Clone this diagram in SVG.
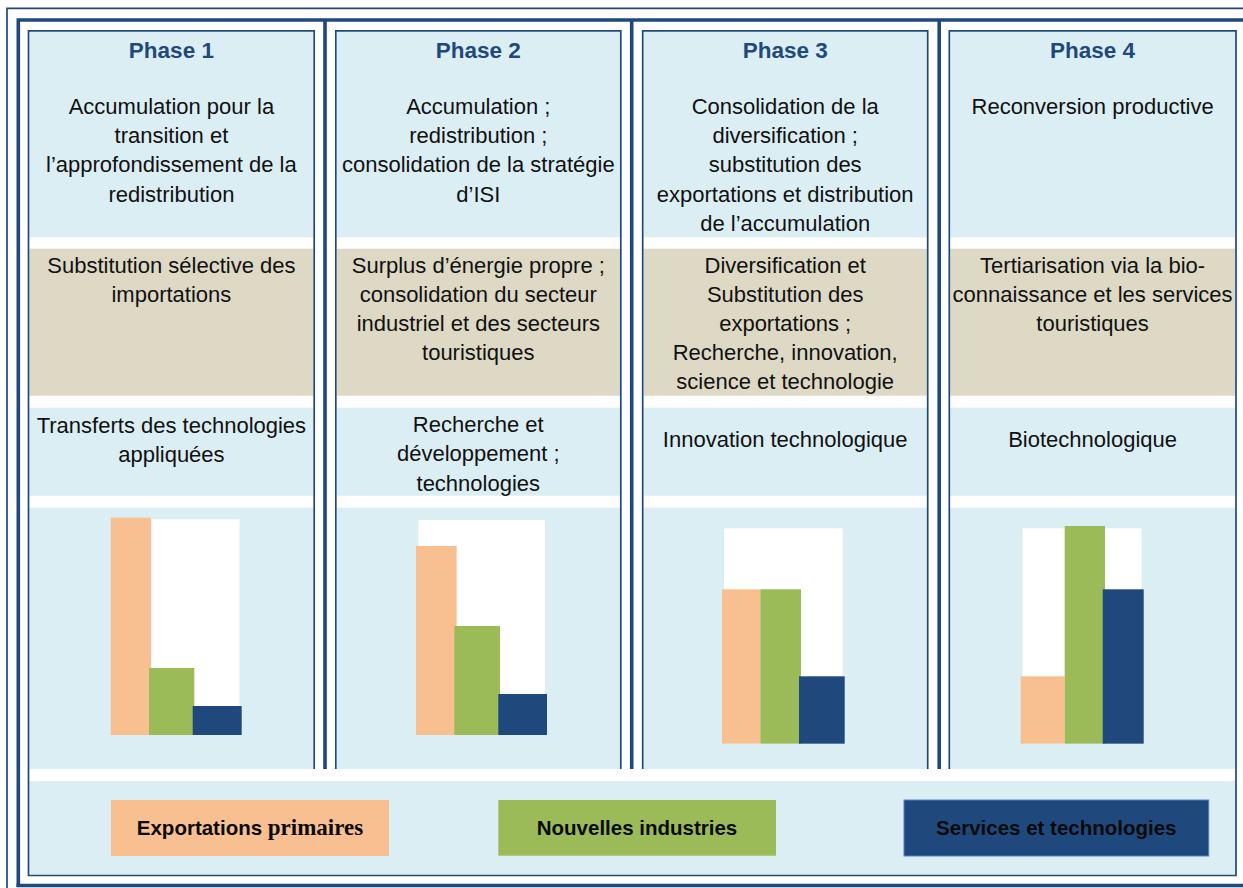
<svg xmlns="http://www.w3.org/2000/svg" width="1243" height="888" viewBox="0 0 1243 888">
<style>
.ln{stroke:#1F497D;fill:none}
.thin{stroke-width:1.7}
.thick{stroke-width:3.6}
.lb{fill:#DBEEF4}
.tan{fill:#DDD9C4}
.wh{fill:#FFFFFF}
.or{fill:#F8C091}
.gr{fill:#9BBB59}
.bl{fill:#1F497D}
.ph{font-family:"Liberation Sans",Arial,sans-serif;font-weight:bold;font-size:22.5px;fill:#1F497D;text-anchor:middle}
.tx{font-family:"Liberation Sans",Arial,sans-serif;font-size:22px;fill:#111111;text-anchor:middle}
.lg{font-family:"Liberation Sans",Arial,sans-serif;font-weight:bold;font-size:20.5px;fill:#0A0A0A;text-anchor:middle}
.serif{font-family:"Liberation Serif","Times New Roman",serif;font-size:23px}
</style>
<rect x="0" y="0" width="1243" height="888" fill="#FFFFFF"/>

<g id="frame">
  <path class="ln thin" d="M7,888 V8.3 H1243"/>
  <path class="ln thick" d="M18.3,887 V20 H1243"/>
  <path class="ln thick" d="M16.5,885.5 H1243"/>
  <path class="ln thick" d="M325,20 V769"/>
  <path class="ln thick" d="M631.7,20 V769"/>
  <path class="ln thick" d="M939.2,20 V769"/>
</g>

<g id="phase1">
  <rect class="lb" x="29.4" y="31.7" width="284" height="205.6"/>
  <rect class="tan" x="29.4" y="248.7" width="284" height="147"/>
  <rect class="lb" x="29.4" y="407.7" width="284" height="88"/>
  <rect class="lb" x="29.4" y="507.7" width="284" height="261.3"/>
  <path class="ln thin" d="M28.5,769 V30.8 H314.2 V769"/>
  <text class="ph" x="171.4" y="58.3">Phase 1</text>
  <text class="tx" x="171.4" y="114.3">Accumulation pour la</text>
  <text class="tx" x="171.4" y="143.3">transition et</text>
  <text class="tx" x="171.4" y="172.4">l’approfondissement de la</text>
  <text class="tx" x="171.4" y="201.5">redistribution</text>
  <text class="tx" x="171.4" y="273.3">Substitution sélective des</text>
  <text class="tx" x="171.4" y="302.3">importations</text>
  <text class="tx" x="171.4" y="433">Transferts des technologies</text>
  <text class="tx" x="171.4" y="462">appliquées</text>
  <rect class="wh" x="151.5" y="519.3" width="88" height="215.7"/>
  <rect class="or" x="110.7" y="517.7" width="40.3" height="217.3"/>
  <rect class="gr" x="149" y="668" width="45.3" height="67"/>
  <rect class="bl" x="192.7" y="706" width="49" height="29"/>
</g>

<g id="phase2">
  <rect class="lb" x="336.7" y="31.7" width="283.2" height="205.6"/>
  <rect class="tan" x="336.7" y="248.7" width="283.2" height="147"/>
  <rect class="lb" x="336.7" y="407.7" width="283.2" height="88"/>
  <rect class="lb" x="336.7" y="507.7" width="283.2" height="261.3"/>
  <path class="ln thin" d="M335.8,769 V30.8 H620.8 V769"/>
  <text class="ph" x="478.3" y="58.3">Phase 2</text>
  <text class="tx" x="478.3" y="114.3">Accumulation ;</text>
  <text class="tx" x="478.3" y="143.3">redistribution ;</text>
  <text class="tx" x="478.3" y="172.4">consolidation de la stratégie</text>
  <text class="tx" x="478.3" y="201.5">d’ISI</text>
  <text class="tx" x="478.3" y="273.3">Surplus d’énergie propre ;</text>
  <text class="tx" x="478.3" y="302.3">consolidation du secteur</text>
  <text class="tx" x="478.3" y="331.3">industriel et des secteurs</text>
  <text class="tx" x="478.3" y="360.3">touristiques</text>
  <text class="tx" x="478.3" y="432.3">Recherche et</text>
  <text class="tx" x="478.3" y="461.3">développement ;</text>
  <text class="tx" x="478.3" y="490.5">technologies</text>
  <rect class="wh" x="418.3" y="520" width="126.7" height="215"/>
  <rect class="or" x="416" y="546" width="40.7" height="189"/>
  <rect class="gr" x="454.3" y="626" width="45.7" height="109"/>
  <rect class="bl" x="498.3" y="694" width="48.7" height="41"/>
</g>

<g id="phase3">
  <rect class="lb" x="643.6" y="31.7" width="283.2" height="205.6"/>
  <rect class="tan" x="643.6" y="248.7" width="283.2" height="147"/>
  <rect class="lb" x="643.6" y="407.7" width="283.2" height="88"/>
  <rect class="lb" x="643.6" y="507.7" width="283.2" height="261.3"/>
  <path class="ln thin" d="M642.7,769 V30.8 H927.7 V769"/>
  <text class="ph" x="785.2" y="58.3">Phase 3</text>
  <text class="tx" x="785.2" y="114.3">Consolidation de la</text>
  <text class="tx" x="785.2" y="143.3">diversification ;</text>
  <text class="tx" x="785.2" y="172.4">substitution des</text>
  <text class="tx" x="785.2" y="201.5">exportations et distribution</text>
  <text class="tx" x="785.2" y="230.6">de l’accumulation</text>
  <text class="tx" x="785.2" y="273.3">Diversification et</text>
  <text class="tx" x="785.2" y="302.3">Substitution des</text>
  <text class="tx" x="785.2" y="331.3">exportations ;</text>
  <text class="tx" x="785.2" y="360.3">Recherche, innovation,</text>
  <text class="tx" x="785.2" y="389.3">science et technologie</text>
  <text class="tx" x="785.2" y="446.7">Innovation technologique</text>
  <rect class="wh" x="724" y="528.3" width="118.7" height="215.4"/>
  <rect class="or" x="722" y="589.3" width="38.3" height="154.4"/>
  <rect class="gr" x="760.3" y="589.3" width="40.7" height="154.4"/>
  <rect class="bl" x="799" y="676.3" width="45.7" height="67.4"/>
</g>

<g id="phase4">
  <rect class="lb" x="950.2" y="31.7" width="284.9" height="205.6"/>
  <rect class="tan" x="950.2" y="248.7" width="284.9" height="147"/>
  <rect class="lb" x="950.2" y="407.7" width="284.9" height="88"/>
  <rect class="lb" x="950.2" y="507.7" width="284.9" height="261.3"/>
  <path class="ln thin" d="M949.3,769 V30.8 H1236 V781"/>
  <text class="ph" x="1092.6" y="58.3">Phase 4</text>
  <text class="tx" x="1092.6" y="114.3">Reconversion productive</text>
  <text class="tx" x="1092.6" y="273.3">Tertiarisation via la bio-</text>
  <text class="tx" x="1092.6" y="302.3">connaissance et les services</text>
  <text class="tx" x="1092.6" y="331.3">touristiques</text>
  <text class="tx" x="1092.6" y="446.7">Biotechnologique</text>
  <rect class="wh" x="1022.7" y="528.3" width="119" height="215.4"/>
  <rect class="or" x="1020.7" y="676.3" width="44" height="67.4"/>
  <rect class="gr" x="1064.7" y="526" width="40.3" height="217.7"/>
  <rect class="bl" x="1102.7" y="589.3" width="41" height="154.4"/>
</g>

<g id="legend">
  <rect class="lb" x="29.4" y="781" width="1205.7" height="93.7"/>
  <path class="ln thin" d="M28.5,769 V875.5 H1236 V781"/>
  <rect class="or" x="111" y="800" width="278" height="56"/>
  <rect class="gr" x="498.3" y="800" width="277.7" height="55.7"/>
  <rect class="bl" x="904" y="800" width="304.7" height="56" stroke="#4F81BD" stroke-width="1"/>
  <text class="lg" x="250" y="835">Exportations <tspan class="serif">primaires</tspan></text>
  <text class="lg" x="637" y="835">Nouvelles industries</text>
  <text class="lg" x="1056.3" y="835">Services et technologies</text>
</g>
</svg>
